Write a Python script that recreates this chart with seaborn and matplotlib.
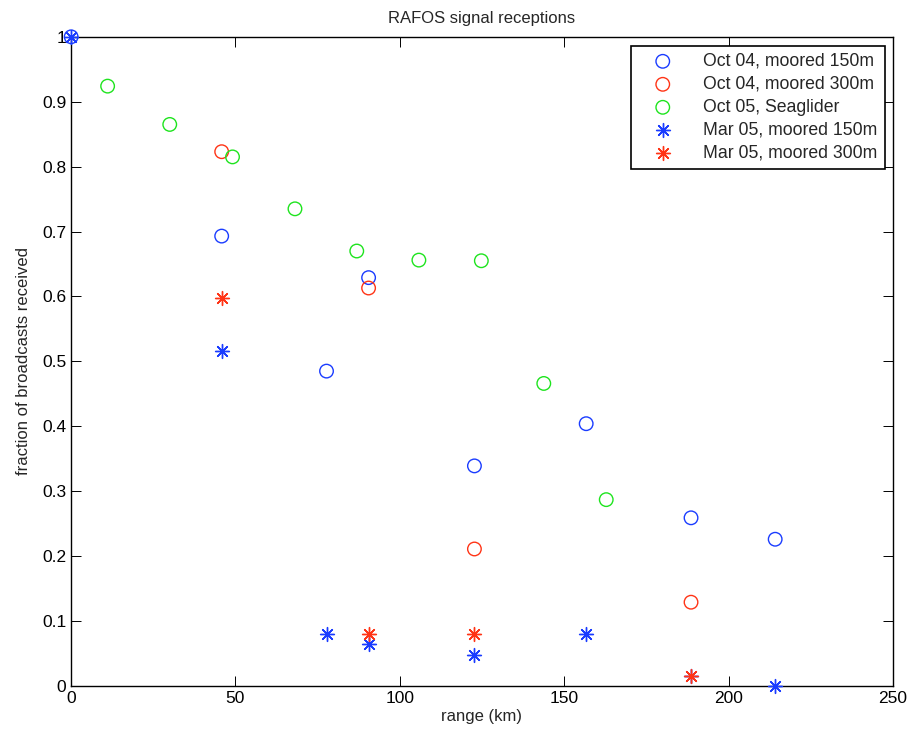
"""RAFOS signal reception fraction vs range."""
import matplotlib
matplotlib.use("Agg")
import matplotlib.pyplot as plt
import pandas as pd
import seaborn as sns

# Oct 04, moored 150m
oct04_150_range = [0, 45.8, 77.7, 90.5, 122.7, 156.7, 188.6, 214.2]
oct04_150_frac = [1.0, 0.693, 0.485, 0.629, 0.339, 0.404, 0.259, 0.226]

# Oct 04, moored 300m
oct04_300_range = [45.8, 90.5, 122.7, 188.6]
oct04_300_frac = [0.823, 0.613, 0.211, 0.129]

# Oct 05, Seaglider
oct05_sg_range = [11.1, 30.0, 49.1, 68.1, 86.9, 105.8, 124.8, 143.8, 162.8]
oct05_sg_frac = [0.924, 0.865, 0.815, 0.735, 0.670, 0.656, 0.655, 0.466, 0.287]

# Mar 05, moored 150m
mar05_150_range = [0, 45.8, 77.7, 90.5, 122.7, 156.7, 188.6, 214.2]
mar05_150_frac = [1.0, 0.516, 0.080, 0.064, 0.048, 0.080, 0.016, 0.0]

# Mar 05, moored 300m
mar05_300_range = [45.8, 90.5, 122.7, 188.6]
mar05_300_frac = [0.597, 0.080, 0.080, 0.016]

series = [
    ("Oct 04, moored 150m", oct04_150_range, oct04_150_frac, "o", "#1a3cff"),
    ("Oct 04, moored 300m", oct04_300_range, oct04_300_frac, "o", "#ff3416"),
    ("Oct 05, Seaglider", oct05_sg_range, oct05_sg_frac, "o", "#1ee41e"),
    ("Mar 05, moored 150m", mar05_150_range, mar05_150_frac, "*", "#1a3cff"),
    ("Mar 05, moored 300m", mar05_300_range, mar05_300_frac, "*", "#ff3416"),
]

sns.set_style("ticks")
plt.rcParams["font.family"] = ["Liberation Sans", "DejaVu Sans"]

fig = plt.figure(figsize=(9.12, 7.36), dpi=100)
ax = fig.add_axes([0.078, 0.068, 0.901, 0.882])

for label, rng, frac, mk, col in series:
    df = pd.DataFrame({"range": rng, "frac": frac})
    if mk == "o":
        sns.scatterplot(
            data=df, x="range", y="frac", ax=ax, marker="o", s=95,
            facecolor="none", edgecolor=col, color=col, linewidth=1.0,
            label=label, zorder=3, clip_on=False,
        )
    else:
        # MATLAB style asterisk: plus overlaid on cross
        sns.scatterplot(
            data=df, x="range", y="frac", ax=ax, marker=(8, 2, 0), s=100,
            color=col, linewidth=1.0, label=label, zorder=3, clip_on=False,
        )

ax.set_xlim(0, 250)
ax.set_ylim(0, 1)
ax.set_xticks([0, 50, 100, 150, 200, 250])
ax.set_yticks([0, 0.1, 0.2, 0.3, 0.4, 0.5, 0.6, 0.7, 0.8, 0.9, 1.0])
ax.set_yticklabels(["0", "0.1", "0.2", "0.3", "0.4", "0.5", "0.6",
                    "0.7", "0.8", "0.9", "1"])
ax.tick_params(direction="in", length=7, width=0.7, labelsize=12.5,
               top=True, right=True, colors="black")
for sp in ax.spines.values():
    sp.set_visible(True)
    sp.set_color("black")
    sp.set_linewidth(1.0)

ax.set_title("RAFOS signal receptions", fontsize=12, pad=10)
ax.set_xlabel("range (km)", fontsize=12, labelpad=2)
ax.set_ylabel("fraction of broadcasts received", fontsize=12, labelpad=8)

leg = ax.legend(loc="upper right", fontsize=12.7, frameon=True,
                fancybox=False, framealpha=1, edgecolor="black",
                borderpad=0.4, labelspacing=0.34, handletextpad=0.9,
                handlelength=2.8, borderaxespad=0,
                bbox_to_anchor=(0.990, 0.986))
leg.get_frame().set_linewidth(1.2)

fig.savefig("out.png", dpi=100)
